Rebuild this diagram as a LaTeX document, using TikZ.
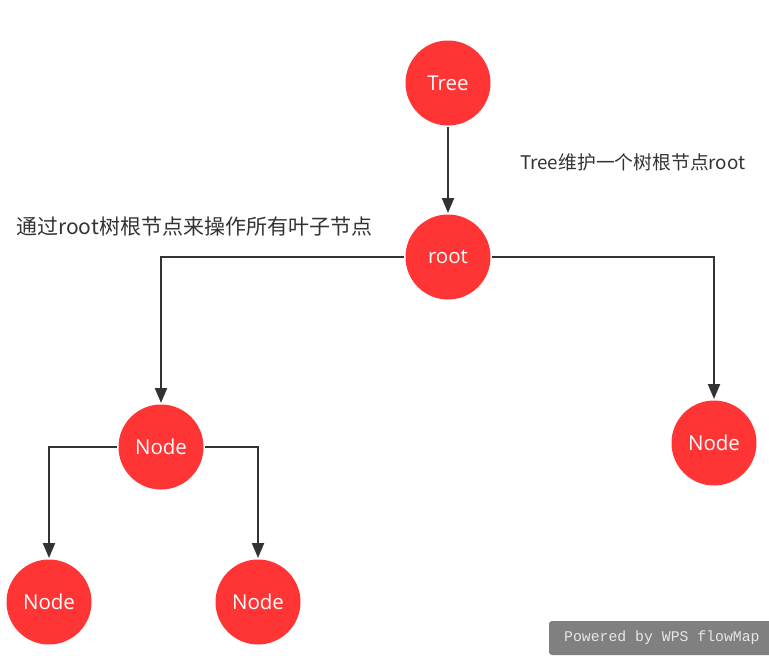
\documentclass[tikz,border=0pt]{standalone}
\usepackage{fontspec}
\setmainfont{Open Sans}
\newfontfamily\cjk{Noto Sans CJK SC}
\newfontfamily\wpsmono{Liberation Mono}
\usetikzlibrary{arrows.meta}
\definecolor{nodered}{HTML}{FF3535}
\definecolor{linegray}{HTML}{333333}
\definecolor{wmgray}{HTML}{808080}
\definecolor{wmtext}{HTML}{E6E6E6}
\begin{document}
\begin{tikzpicture}[x=1pt,y=-1pt,
  treenode/.style={circle,fill=nodered,minimum size=85pt,inner sep=0pt,outer sep=1.5pt,text=white,font=\fontsize{20.5}{20.5}\selectfont},
  conn/.style={draw=linegray,line width=2.2pt,-{Triangle[length=15pt,width=12pt]}},
  note/.style={text=linegray,anchor=west,inner sep=0pt}]
\path[use as bounding box] (0,0) rectangle (769,656);
\node[treenode] (tree) at (448,83) {Tree};
\node[treenode] (root) at (448,257) {root};
\node[treenode] (nl) at (161,447) {Node};
\node[treenode] (nr) at (714,443) {Node};
\node[treenode] (ll) at (49,602) {Node};
\node[treenode] (lr) at (258,602) {Node};
\draw[conn] (tree) -- (root);
\draw[conn] (root.west) -| (nl.north);
\draw[conn] (root.east) -| (nr.north);
\draw[conn] (nl.west) -| (ll.north);
\draw[conn] (nl.east) -| (lr.north);
\node[note,font=\cjk\fontsize{18.8}{18.8}\selectfont] (t1) at (520,162) {Tree维护一个树根节点root};
\node[note,font=\cjk\fontsize{21}{21}\selectfont] (t2) at (16,227) {通过root树根节点来操作所有叶子节点};
\fill[wmgray,rounded corners=3pt] (549,621) rectangle (775,655);
\node[text=wmtext,font=\wpsmono\fontsize{14.8}{14.8}\selectfont,anchor=west,inner sep=0pt] (wm) at (564,638) {Powered by WPS flowMap};
\end{tikzpicture}
\end{document}
